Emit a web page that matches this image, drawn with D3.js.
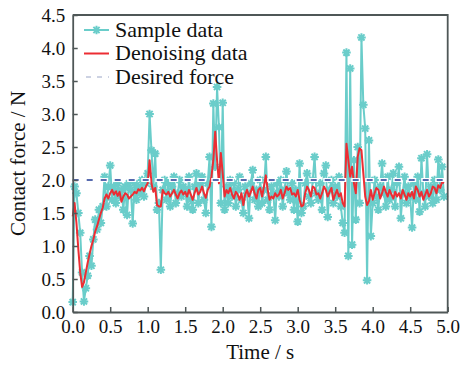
<!DOCTYPE html>
<html>
<head>
<meta charset="utf-8">
<script src="https://cdn.jsdelivr.net/npm/d3@7"></script>
</head>
<body style="margin:0">
<svg id="chart" width="463" height="366"></svg>
<script>
// sampling step of both series (s)
const dt = 0.025

// raw contact force (N)
const sampleData = [
  0.15, 1.9, 1.8, 1.5, 1.2, 0.6, 0.16, 0.36, 0.55, 0.85, 0.7, 1.1, 1.4, 1.25, 1.55, 1.35, 1.6, 2.05, 1.6, 1.9,
  2.22, 1.7, 1.9, 1.65, 1.95, 1.75, 1.85, 1.55, 1.9, 1.47, 1.95, 1.85, 1.34, 1.95, 1.7, 1.9, 1.8, 2.0, 1.75, 1.95,
  2.1, 3.0, 2.45, 1.9, 2.4, 1.55, 1.65, 0.64, 1.85, 2.0, 1.7, 1.95, 1.6, 1.9, 2.05, 1.65, 1.8, 2.0, 1.75, 1.9,
  1.85, 1.6, 2.05, 1.7, 1.55, 1.9, 2.1, 1.65, 1.95, 2.05, 1.7, 1.5, 1.95, 2.35, 1.29, 3.16, 2.2, 3.41, 2.8, 1.65,
  3.17, 1.55, 1.9, 1.65, 2.0, 1.75, 1.95, 1.6, 1.85, 2.05, 1.7, 1.5, 1.9, 1.8, 1.42, 1.95, 2.15, 1.7, 1.85, 1.6,
  2.0, 1.65, 1.85, 2.35, 1.7, 1.55, 1.9, 1.8, 1.39, 1.95, 1.75, 2.0, 1.6, 1.85, 2.13, 1.8, 1.7, 1.95, 1.55, 1.85,
  1.37, 2.25, 1.5, 1.6, 1.95, 2.1, 1.75, 1.65, 2.0, 2.35, 1.8, 1.7, 1.95, 1.55, 2.1, 2.22, 1.44, 1.85, 2.0, 1.65,
  1.9, 1.75, 2.05, 1.6, 1.35, 1.2, 3.93, 0.85, 3.69, 1.02, 2.3, 1.4, 2.5, 1.65, 4.16, 3.14, 2.78, 0.48, 2.6, 1.15,
  1.65, 2.0, 1.75, 1.55, 1.9, 2.25, 1.8, 1.6, 2.05, 1.7, 1.85, 2.1, 1.6, 1.95, 2.2, 1.42, 1.8, 2.05, 1.65, 1.9,
  1.75, 1.28, 1.95, 1.7, 2.05, 1.52, 2.33, 1.8, 1.6, 2.39, 1.75, 1.9, 1.65, 2.0, 1.7, 2.31, 1.85, 2.2, 1.75
]

// filtered force (N)
const denoisedData = [
  1.45, 1.65, 1.35, 0.95, 0.6, 0.38, 0.45, 0.6, 0.75, 0.88, 1.0, 1.1, 1.22, 1.3, 1.4, 1.5, 1.58, 1.72, 1.78, 1.72,
  1.8, 1.85, 1.78, 1.83, 1.76, 1.82, 1.67, 1.75, 1.8, 1.78, 1.72, 1.75, 1.78, 1.82, 1.8, 1.86, 1.84, 1.88, 1.83, 1.9,
  1.95, 2.3, 1.95, 1.82, 1.88, 1.62, 1.6, 1.6, 1.85, 1.8, 1.78, 1.82, 1.75, 1.8, 1.85, 1.78, 1.72, 1.8, 1.84, 1.78,
  1.82, 1.75, 1.85, 1.78, 1.7, 1.8, 1.88, 1.78, 1.82, 1.9, 1.8, 1.73, 1.85, 1.9, 2.05, 2.3, 2.73, 2.3, 1.95, 2.41,
  2.1, 1.75, 1.85, 1.8, 1.88, 1.78, 1.72, 1.82, 1.78, 1.7, 1.8, 1.62, 1.78, 1.85, 1.75, 1.82, 1.9, 1.8, 1.72, 1.85,
  1.88, 1.75, 1.9, 2.07, 1.85, 1.7, 1.75, 1.72, 1.8, 1.75, 1.78, 1.85, 1.72, 1.8, 1.9, 1.85, 1.88, 1.78, 1.8, 1.75,
  1.85, 1.7, 1.6, 1.62, 1.8, 1.9, 1.85, 1.75, 1.9, 1.88, 1.78, 1.8, 1.72, 1.8, 1.9, 1.85, 1.75, 1.82, 1.88, 1.7,
  1.78, 1.85, 1.75, 1.8, 1.65, 1.6, 2.55, 2.3, 2.05, 2.2, 1.95, 1.8, 2.35, 2.48, 2.45, 2.1, 1.75, 1.62, 1.68, 1.85,
  1.7, 1.8, 1.88, 1.85, 1.72, 1.8, 1.9, 1.82, 1.75, 1.85, 1.78, 1.72, 1.82, 1.75, 1.8, 1.72, 1.85, 1.78, 1.7, 1.8,
  1.75, 1.82, 1.72, 1.9, 1.85, 1.75, 1.82, 1.7, 1.78, 1.85, 1.75, 1.8, 1.9, 1.88, 1.8, 1.92, 1.88, 1.97, 1.95
]

const desiredForce = 2.0
const xTicks = [0, 0.5, 1, 1.5, 2, 2.5, 3, 3.5, 4, 4.5, 5]
const yTicks = [0, 0.5, 1, 1.5, 2, 2.5, 3, 3.5, 4, 4.5]
const legendLabels = ["Sample data", "Denoising data", "Desired force"]

const margin = { top: 15, right: 15.3, bottom: 54, left: 72.7 }
const width = 463
const height = 366
const fontName = "Liberation Serif"
const axisColor = "#4f5757"
const cyan = "#6acdca"
const red = "#ec2d33"
const navy = "#1f3a94"

const svg = d3.select("#chart")

const x = d3.scaleLinear()
  .domain([0, 5])
  .range([margin.left, width - margin.right])

const y = d3.scaleLinear()
  .domain([0, 4.5])
  .range([height - margin.bottom, margin.top])

const samples = sampleData.map((v, i) => ({ t: i * dt, v: v }))
const denoised = denoisedData.map((v, i) => ({ t: i * dt, v: v }))

const line = d3.line()
  .x(d => x(d.t))
  .y(d => y(d.v))

// 8 spoke asterisk used as marker
const star = "M-4.3,0L4.3,0M0,-4.3L0,4.3M-3.1,-3.1L3.1,3.1M-3.1,3.1L3.1,-3.1"

/* sample series: line + markers */
svg.append("path")
  .datum(samples)
  .attr("fill", "none")
  .attr("stroke", cyan)
  .attr("stroke-width", 2)
  .attr("d", line)

svg.append("g")
  .selectAll("path")
  .data(samples)
  .enter().append("path")
    .attr("transform", d => "translate(" + x(d.t) + "," + y(d.v) + ")")
    .attr("d", star)
    .attr("stroke", cyan)
    .attr("stroke-width", 2)
    .attr("fill", "none")

/* denoised series */
svg.append("path")
  .datum(denoised)
  .attr("fill", "none")
  .attr("stroke", red)
  .attr("stroke-width", 2)
  .attr("stroke-linejoin", "round")
  .attr("d", line)

/* desired force: white halo under the navy dashes */
const tEnd = samples[samples.length - 1].t
svg.append("line")
  .attr("x1", x(0)).attr("x2", x(tEnd))
  .attr("y1", y(desiredForce)).attr("y2", y(desiredForce))
  .attr("stroke", "#fff")
  .attr("stroke-width", 4)
  .attr("stroke-dasharray", "9,5")
  .attr("stroke-dashoffset", 1.5)
svg.append("line")
  .attr("x1", x(0)).attr("x2", x(tEnd))
  .attr("y1", y(desiredForce)).attr("y2", y(desiredForce))
  .attr("stroke", navy)
  .attr("stroke-width", 1.5)
  .attr("stroke-dasharray", "6,8")

/* axes, ticks point inward */
const xAxis = svg.append("g")
  .attr("transform", "translate(0," + y(0) + ")")
  .call(d3.axisBottom(x)
    .tickValues(xTicks)
    .tickFormat(d3.format(".1f"))
    .tickSizeInner(-5)
    .tickSizeOuter(0)
    .tickPadding(7.5))

const yAxis = svg.append("g")
  .attr("transform", "translate(" + x(0) + ",0)")
  .call(d3.axisLeft(y)
    .tickValues(yTicks)
    .tickFormat(d3.format(".1f"))
    .tickSizeInner(-5)
    .tickSizeOuter(0)
    .tickPadding(7.5))

for (const g of [xAxis, yAxis]) {
  g.attr("font-family", fontName).attr("font-size", 19)
  g.select(".domain").attr("stroke", axisColor).attr("stroke-width", 1.8)
  g.selectAll(".tick line").attr("stroke", axisColor).attr("stroke-width", 1.5)
  g.selectAll(".tick text").attr("fill", "#111").attr("font-family", fontName)
}

// top and right frame
svg.append("path")
  .attr("d", "M" + x(0) + "," + y(4.5) + "H" + x(5) + "V" + y(0))
  .attr("fill", "none")
  .attr("stroke", axisColor)
  .attr("stroke-width", 1.8)

/* axis titles */
svg.append("text")
  .attr("x", (x(0) + x(5)) / 2)
  .attr("y", 359)
  .attr("text-anchor", "middle")
  .attr("font-family", fontName)
  .attr("font-size", 21)
  .attr("fill", "#111")
  .text("Time / s")

svg.append("text")
  .attr("transform", "translate(25," + (y(0) + y(4.5)) / 2 + ") rotate(-90)")
  .attr("text-anchor", "middle")
  .attr("font-family", fontName)
  .attr("font-size", 21)
  .attr("fill", "#111")
  .text("Contact force / N")

/* legend */
const legend = svg.append("g")
const rowY = [30, 53.5, 77]
const lx0 = 84, lx1 = 109

legend.append("line")
  .attr("x1", lx0).attr("x2", lx1).attr("y1", rowY[0]).attr("y2", rowY[0])
  .attr("stroke", cyan).attr("stroke-width", 2)
legend.append("path")
  .attr("transform", "translate(" + (lx0 + lx1) / 2 + "," + rowY[0] + ")")
  .attr("d", star).attr("stroke", cyan).attr("stroke-width", 2)

legend.append("line")
  .attr("x1", lx0).attr("x2", lx1).attr("y1", rowY[1]).attr("y2", rowY[1])
  .attr("stroke", red).attr("stroke-width", 2)

legend.append("line")
  .attr("x1", lx0 + 2).attr("x2", lx1).attr("y1", rowY[2]).attr("y2", rowY[2])
  .attr("stroke", "#9aa5c6").attr("stroke-width", 1)
  .attr("stroke-dasharray", "5,6")

legend.selectAll("text")
  .data(legendLabels)
  .enter().append("text")
    .attr("x", 115)
    .attr("y", (d, i) => rowY[i] + 6.5)
    .attr("font-family", fontName)
    .attr("font-size", 22)
    .attr("fill", "#111")
    .text(d => d)
</script>
</body>
</html>
